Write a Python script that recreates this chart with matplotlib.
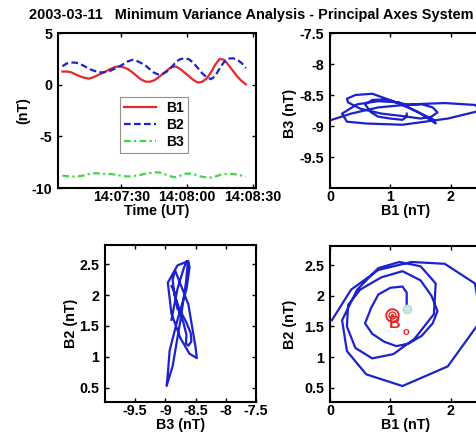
import matplotlib
matplotlib.use("Agg")
import matplotlib.pyplot as plt

plt.rcParams['font.family'] = ['Liberation Sans', 'DejaVu Sans']
plt.rcParams['font.weight'] = 'bold'
plt.rcParams['axes.unicode_minus'] = False

# time in seconds after 14:07:00 UT
t_sec = [3, 5, 7, 9, 11, 13, 15, 17, 19, 21, 23, 25, 27, 29, 31, 33, 35, 37, 39, 41, 43,
         45, 47, 49, 51, 53, 55, 57, 59, 61, 63, 65, 67, 69, 71, 73, 75, 77, 79, 81, 83, 85, 87]
B1 = [1.27, 1.27, 1.20, 1.00, 0.80, 0.68, 0.58, 0.70, 0.90, 1.10, 1.30, 1.52, 1.70, 1.78, 1.68,
      1.50, 1.20, 0.85, 0.50, 0.30, 0.28, 0.42, 0.70, 1.05, 1.40, 1.72, 1.75, 1.50, 1.15, 0.80,
      0.45, 0.20, 0.28, 0.60, 1.20, 1.95, 2.50, 2.40, 1.90, 1.35, 0.80, 0.35, 0.03]
B2 = [1.78, 2.05, 2.15, 2.13, 2.02, 1.80, 1.55, 1.38, 1.25, 1.18, 1.22, 1.35, 1.55, 1.75, 2.00,
      2.25, 2.40, 2.30, 2.10, 1.85, 1.50, 1.15, 0.98, 1.05, 1.30, 1.70, 2.20, 2.48, 2.55, 2.45,
      2.10, 1.60, 1.10, 0.72, 0.53, 0.85, 1.60, 2.20, 2.52, 2.55, 2.42, 2.10, 1.60]
B3 = [-8.80, -8.85, -8.90, -8.88, -8.85, -8.78, -8.65, -8.58, -8.57, -8.62, -8.66, -8.65, -8.70,
      -8.78, -8.85, -8.88, -8.84, -8.80, -8.72, -8.62, -8.56, -8.50, -8.48, -8.60, -8.75, -8.90,
      -8.96, -8.80, -8.62, -8.60, -8.65, -8.80, -8.93, -8.96, -8.98, -8.88, -8.75, -8.66, -8.63,
      -8.65, -8.70, -8.80, -8.90]

time_ticks = [30, 60, 90]
time_labels = ['14:07:30', '14:08:00', '14:08:30']
mean_B1, mean_B2 = 1.02, 1.68

RED = '#e5282b'
BLUE = '#1c22cc'
GREEN = '#3fd84a'

W, H = 477, 436
fig = plt.figure(figsize=(W / 100, H / 100), dpi=100)

def ax_px(x0, y0, x1, y1):
    return fig.add_axes([x0 / W, 1 - y1 / H, (x1 - x0) / W, (y1 - y0) / H])

def style(ax):
    for s in ax.spines.values():
        s.set_linewidth(1.5)
    ax.tick_params(direction='in', length=3, width=1.0, top=True, right=True,
                   labelsize=10.3)
    ax.tick_params(axis='x', pad=1.5)
    ax.tick_params(axis='y', pad=4)
    for lab in ax.get_xticklabels() + ax.get_yticklabels():
        lab.set_fontweight('bold')

fs_lab = 10.3

# Top-left: time series
ax1 = ax_px(58, 33, 256, 188)
ax1.plot(t_sec, B1, color=RED, lw=1.6, label='B1')
ax1.plot(t_sec, B2, color=BLUE, lw=1.6, ls=(0, (3, 1.5)), label='B2')
ax1.plot(t_sec, B3, color=GREEN, lw=1.6, ls=(0, (3, 1.5, 1, 1.5)), label='B3')
ax1.set_xlim(1, 91.6)
ax1.set_ylim(-10, 5)
ax1.set_xticks(time_ticks)
ax1.set_xticklabels(time_labels)
ax1.set_yticks([-10, -5, 0, 5])
style(ax1)
ax1.set_ylabel('(nT)', fontsize=fs_lab, fontweight='bold')
ax1.yaxis.set_label_coords(-28 / 198, 0.5)
ax1.set_xlabel('Time (UT)', fontsize=fs_lab, fontweight='bold')
ax1.xaxis.set_label_coords(0.5, -16 / 155)
leg = ax1.legend(loc='upper left', bbox_to_anchor=((120 - 58) / 198, (188 - 97) / 155),
                 fontsize=10, frameon=True, fancybox=False, edgecolor='#777777',
                 handlelength=2.3, borderpad=0.3, labelspacing=0.2, handletextpad=0.7,
                 borderaxespad=0)
leg.get_frame().set_linewidth(0.8)
for txt in leg.get_texts():
    txt.set_fontweight('bold')

# Top-right: B3 vs B1
ax2 = ax_px(330, 33, 481, 188)
ax2.plot(B1, B3, color=BLUE, lw=1.6)
ax2.set_xlim(0, 2.5)
ax2.set_ylim(-10, -7.5)
ax2.set_xticks([0, 1, 2])
ax2.set_yticks([-9.5, -9, -8.5, -8, -7.5])
ax2.set_yticklabels(['-9.5', '-9', '-8.5', '-8', '-7.5'])
style(ax2)
ax2.set_ylabel('B3 (nT)', fontsize=fs_lab, fontweight='bold')
ax2.yaxis.set_label_coords(-(330 - 297) / 151, (188 - 113) / 155)
ax2.set_xlabel('B1 (nT)', fontsize=fs_lab, fontweight='bold')
ax2.xaxis.set_label_coords(0.5, -16 / 155)

# Bottom-left: B2 vs B3
ax3 = ax_px(105, 245, 256, 402)
ax3.plot(B3, B2, color=BLUE, lw=1.6)
ax3.set_xlim(-10, -7.5)
ax3.set_ylim(0.27, 2.81)
ax3.set_xticks([-9.5, -9, -8.5, -8, -7.5])
ax3.set_xticklabels(['-9.5', '-9', '-8.5', '-8', '-7.5'])
ax3.set_yticks([0.5, 1, 1.5, 2, 2.5])
ax3.set_yticklabels(['0.5', '1', '1.5', '2', '2.5'])
style(ax3)
ax3.set_ylabel('B2 (nT)', fontsize=fs_lab, fontweight='bold')
ax3.yaxis.set_label_coords(-(105 - 78) / 151, 0.5)
ax3.set_xlabel('B3 (nT)', fontsize=fs_lab, fontweight='bold')
ax3.xaxis.set_label_coords(0.5, -16 / 157)

# Bottom-right: B2 vs B1
ax4 = ax_px(330, 246, 481, 402)
ax4.plot(B1, B2, color=BLUE, lw=1.6)
ax4.plot(B1[0], B2[0], 'o', ms=6, mfc='#cfe8e0', mec='#b8dcd0', mew=1)
ax4.plot(mean_B1, mean_B2, 'o', ms=9, mfc='none', mec=RED, mew=1.4)
ax4.plot(mean_B1, mean_B2, 'o', ms=5, mfc='none', mec=RED, mew=1.0)
ax4.plot(mean_B1, mean_B2, '.', ms=3, color=RED)
ax4.text(mean_B1 + 0.05, mean_B2 - 0.13, 'B', color=RED, fontsize=11.5, fontweight='bold',
         ha='center', va='center')
ax4.text(mean_B1 + 0.19, mean_B2 - 0.27, 'o', color=RED, fontsize=8, fontweight='bold',
         ha='left', va='center')
ax4.set_xlim(0, 2.5)
ax4.set_ylim(0.27, 2.81)
ax4.set_xticks([0, 1, 2])
ax4.set_yticks([0.5, 1, 1.5, 2, 2.5])
ax4.set_yticklabels(['0.5', '1', '1.5', '2', '2.5'])
style(ax4)
ax4.set_ylabel('B2 (nT)', fontsize=fs_lab, fontweight='bold')
ax4.yaxis.set_label_coords(-(330 - 297) / 151, 0.5)
ax4.set_xlabel('B1 (nT)', fontsize=fs_lab, fontweight='bold')
ax4.xaxis.set_label_coords(0.5, -16 / 156)

fig.text(29 / W, 1 - 15 / H, '2003-03-11   Minimum Variance Analysis - Principal Axes System',
         fontsize=10.45, fontweight='bold', ha='left', va='center')

fig.savefig('out.png', dpi=100)
